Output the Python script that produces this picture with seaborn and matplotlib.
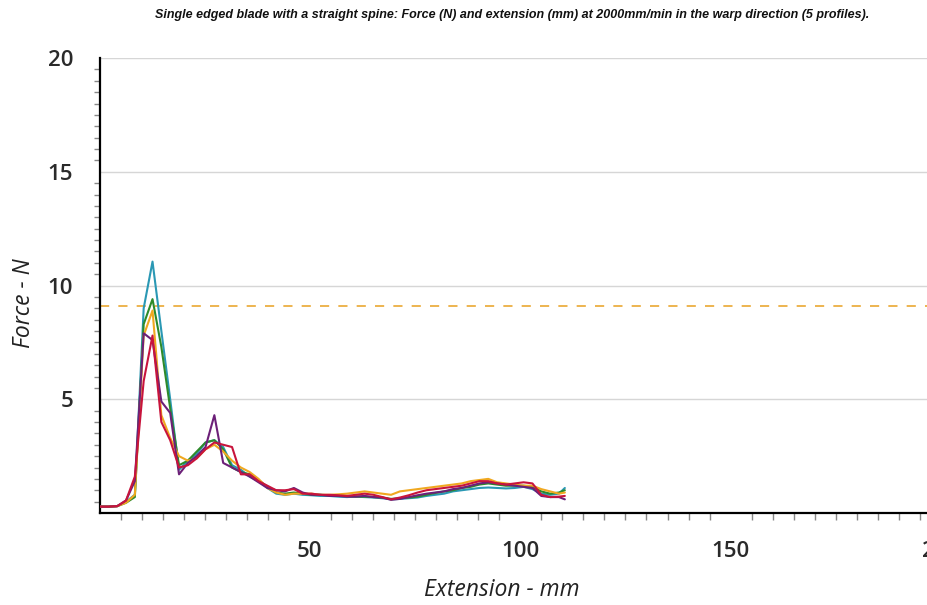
import matplotlib
matplotlib.use("Agg")
import matplotlib.pyplot as plt
from matplotlib.ticker import MultipleLocator
import seaborn as sns
import pandas as pd

# ---------------- data ----------------
extension_mm = [0, 2.1, 4.2, 6.3, 8.4, 10.5, 12.6, 14.7, 16.8, 18.9,
                21.0, 23.1, 25.2, 27.3, 29.4, 31.5, 33.6, 35.7, 37.8, 39.9,
                42.0, 44.1, 46.2, 48.3, 50.4, 52.5, 54.6, 56.7, 58.8, 60.9,
                63.0, 65.1, 67.2, 69.3, 71.4, 73.5, 75.6, 77.7, 79.8, 81.9,
                84.0, 86.1, 88.2, 90.3, 92.4, 94.5, 96.6, 98.7, 100.8, 102.9,
                105.0, 107.1, 109.2, 110.6]

profile_teal = [0.28, 0.28, 0.30, 0.5, 0.8, 9.0, 11.05, 8.0, 5.0, 1.9,
                2.3, 2.6, 3.1, 3.2, 2.9, 2.1, 1.9, 1.6, 1.4, 1.1,
                0.85, 0.8, 0.85, 0.8, 0.78, 0.75, 0.75, 0.72, 0.7, 0.72,
                0.7, 0.68, 0.65, 0.6, 0.62, 0.65, 0.68, 0.75, 0.8, 0.85,
                0.95, 1.0, 1.05, 1.1, 1.12, 1.1, 1.08, 1.1, 1.15, 1.05,
                0.85, 0.8, 0.85, 1.1]
profile_green = [0.28, 0.28, 0.30, 0.45, 0.7, 8.3, 9.4, 7.3, 4.6, 2.1,
                 2.3, 2.7, 3.1, 3.2, 2.8, 2.0, 1.8, 1.7, 1.45, 1.15,
                 0.9, 0.85, 0.9, 0.85, 0.8, 0.8, 0.78, 0.75, 0.75, 0.72,
                 0.72, 0.7, 0.68, 0.62, 0.65, 0.68, 0.72, 0.8, 0.88, 0.95,
                 1.0, 1.1, 1.15, 1.25, 1.3, 1.25, 1.2, 1.2, 1.2, 1.15,
                 0.95, 0.85, 0.9, 1.0]
profile_orange = [0.28, 0.28, 0.30, 0.45, 0.8, 7.8, 8.9, 4.3, 3.3, 2.5,
                  2.3, 2.4, 2.8, 3.0, 2.7, 2.3, 2.0, 1.8, 1.5, 1.1,
                  0.9, 0.8, 0.85, 0.85, 0.85, 0.8, 0.8, 0.82, 0.85, 0.9,
                  0.95, 0.9, 0.85, 0.8, 0.95, 1.0, 1.05, 1.1, 1.15, 1.2,
                  1.25, 1.3, 1.4, 1.45, 1.5, 1.35, 1.3, 1.25, 1.2, 1.2,
                  1.05, 0.95, 0.85, 0.9]
profile_purple = [0.28, 0.28, 0.30, 0.55, 1.4, 7.9, 7.6, 4.9, 4.4, 1.7,
                  2.2, 2.5, 2.9, 4.3, 2.2, 2.0, 1.8, 1.6, 1.35, 1.1,
                  1.0, 0.95, 1.1, 0.9, 0.8, 0.8, 0.75, 0.75, 0.72, 0.72,
                  0.75, 0.7, 0.68, 0.58, 0.62, 0.7, 0.78, 0.85, 0.9, 0.95,
                  1.05, 1.1, 1.2, 1.3, 1.35, 1.3, 1.25, 1.2, 1.15, 1.1,
                  0.75, 0.7, 0.7, 0.6]
profile_red = [0.28, 0.28, 0.30, 0.55, 1.6, 5.8, 7.8, 4.0, 3.2, 2.0,
               2.1, 2.4, 2.8, 3.1, 3.0, 2.9, 1.7, 1.7, 1.4, 1.2,
               1.0, 1.0, 1.05, 0.85, 0.85, 0.8, 0.8, 0.78, 0.75, 0.8,
               0.85, 0.8, 0.7, 0.6, 0.68, 0.78, 0.9, 1.0, 1.05, 1.1,
               1.15, 1.2, 1.3, 1.4, 1.4, 1.3, 1.25, 1.3, 1.35, 1.3,
               0.8, 0.7, 0.72, 0.75]

profile_names = ["Profile 1", "Profile 2", "Profile 3", "Profile 4", "Profile 5"]
profile_colors = ["#2a98b4", "#2e8a2a", "#f0a820", "#6c2078", "#c8143c"]
threshold_force = 9.1

x_ticks = [0, 50, 100, 150, 200]
x_tick_labels = ["", "50", "100", "150", "200"]
y_ticks = [0, 5, 10, 15, 20]
y_tick_labels = ["", "5", "10", "15", "20"]

title_text = ("Single edged blade with a straight spine: Force (N) and extension (mm) "
              "at 2000mm/min in the warp direction (5 profiles).")

# ---------------- build table ----------------
series = [profile_teal, profile_green, profile_orange, profile_purple, profile_red]
rows = []
for name, vals in zip(profile_names, series):
    for xv, yv in zip(extension_mm, vals):
        rows.append({"Extension": xv, "Force": yv, "Profile": name})
df = pd.DataFrame(rows)

# ---------------- plot ----------------
sns.set_theme(style="white")
plt.rcParams["font.family"] = ["Open Sans", "DejaVu Sans"]

W, H = 927, 605
fig = plt.figure(figsize=(W / 100, H / 100), dpi=100)
fig.patch.set_facecolor("white")
ax = fig.add_axes([99.5 / W, 92 / H, 841.5 / W, 455 / H])
ax.set_facecolor("white")

for yv in [5, 10, 15, 20]:
    ax.axhline(yv, color="#d6d6d6", lw=1.0, zorder=0)
ax.axhline(threshold_force, color="#e8a020", lw=1.1, dashes=(6, 6), zorder=1)

sns.lineplot(data=df, x="Extension", y="Force", hue="Profile",
             palette=dict(zip(profile_names, profile_colors)),
             estimator=None, sort=False, legend=False, lw=1.5, ax=ax, zorder=3)

ax.set_xlim(0, 200)
ax.set_ylim(0, 20)
ax.set_xticks(x_ticks)
ax.set_xticklabels(x_tick_labels)
ax.set_yticks(y_ticks)
ax.set_yticklabels(y_tick_labels)
ax.xaxis.set_minor_locator(MultipleLocator(5))
ax.yaxis.set_minor_locator(MultipleLocator(0.5))

for s in ["top", "right"]:
    ax.spines[s].set_visible(False)
for s in ["left", "bottom"]:
    ax.spines[s].set_color("black")
    ax.spines[s].set_linewidth(1.6)

ax.tick_params(axis="x", which="major", direction="out", length=9.5, width=1.6,
               color="black", pad=11, labelsize=16, labelcolor="#2a2a2a")
ax.tick_params(axis="y", which="major", direction="out", length=10, width=1.6,
               color="black", pad=9, labelsize=16, labelcolor="#2a2a2a")
ax.tick_params(axis="x", which="minor", direction="out", length=5, width=1.0,
               color="#888888", bottom=True)
ax.tick_params(axis="y", which="minor", direction="out", length=4.3, width=1.0,
               color="#888888", left=True)
for lab in ax.get_xticklabels() + ax.get_yticklabels():
    lab.set_fontweight("semibold")

ax.set_xlabel("")
ax.set_ylabel("")
fig.text(502 / W, 1 - 590 / H, "Extension - mm", ha="center", va="center",
         fontsize=16.5, style="italic", color="#222222")
fig.text(24 / W, 1 - 303 / H, "Force - N", ha="center", va="center",
         rotation=90, fontsize=16.5, style="italic", color="#222222")
fig.text(512 / W, 1 - 15 / H, title_text, ha="center", va="center",
         fontsize=9.0, fontweight="bold", style="italic", color="#111111",
         family=["Liberation Sans Narrow", "Liberation Sans", "DejaVu Sans"])

fig.savefig("out.png", dpi=100)
